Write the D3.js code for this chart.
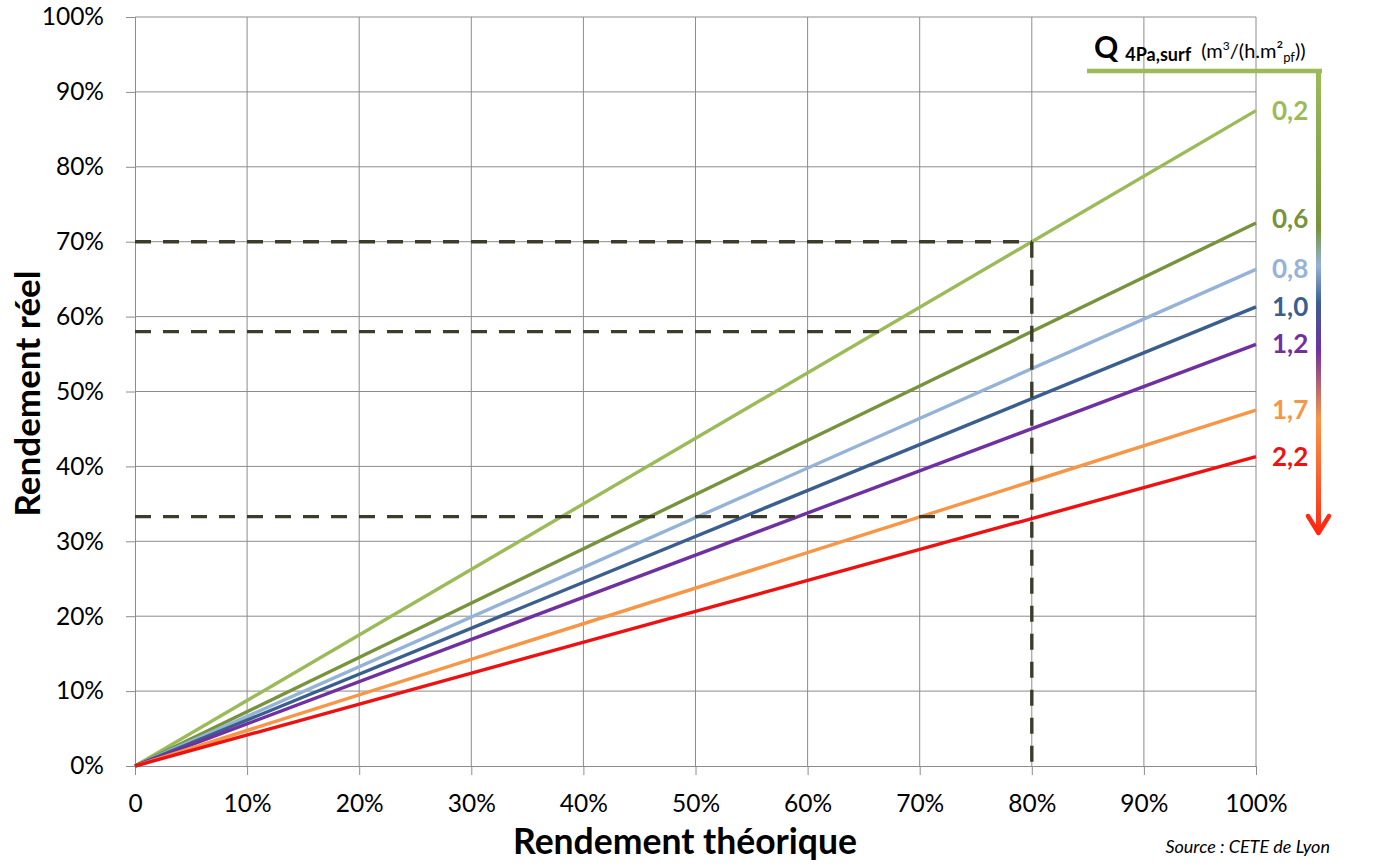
<!DOCTYPE html>
<html><head><meta charset="utf-8">
<script src="https://cdn.jsdelivr.net/npm/d3@7"></script>
<style>body{margin:0;background:#fff;} svg{display:block;font-family:Lato,"Open Sans",sans-serif;}</style>
</head><body>
<svg id="c" width="1398" height="866"></svg>
<script>
const seriesNames = ["0,2","0,6","0,8","1,0","1,2","1,7","2,2"];
const seriesEnd = [0.875,0.725,0.663,0.613,0.563,0.475,0.413];
const seriesColors = ["#9bbb59","#77933c","#95b3d7","#3a5f8f","#7030a0","#f79646","#ee1111"];
const labelY = [0.875,0.73,0.663,0.613,0.563,0.475,0.413];
const xTicks = [0,0.1,0.2,0.3,0.4,0.5,0.6,0.7,0.8,0.9,1.0];
const xTickLabels = ["0","10%","20%","30%","40%","50%","60%","70%","80%","90%","100%"];
const yTicks = [0,0.1,0.2,0.3,0.4,0.5,0.6,0.7,0.8,0.9,1.0];
const refX = 0.8;
const refY = [0.70,0.58,0.333];

const svg = d3.select("#c");
const x = d3.scaleLinear().domain([0,1]).range([135,1256]);
const y = d3.scaleLinear().domain([0,1]).range([766,17]);

// grid
svg.append("g").selectAll("line.v").data(xTicks.slice(1)).join("line")
  .attr("x1",d=>x(d)).attr("x2",d=>x(d)).attr("y1",y(0)).attr("y2",y(1))
  .attr("stroke","#8c8c8c").attr("stroke-width",1);
svg.append("g").selectAll("line.h").data(yTicks.slice(1)).join("line")
  .attr("x1",x(0)).attr("x2",x(1)).attr("y1",d=>y(d)).attr("y2",d=>y(d))
  .attr("stroke","#8c8c8c").attr("stroke-width",1);

// axes
const xAxis = svg.append("g").attr("transform",`translate(0,${y(0)})`)
  .call(d3.axisBottom(x).tickValues(xTicks).tickFormat((d,i)=>xTickLabels[i]).tickSizeOuter(0).tickSize(9).tickPadding(20));
const yAxis = svg.append("g").attr("transform",`translate(${x(0)},0)`)
  .call(d3.axisLeft(y).tickValues(yTicks).tickFormat(d3.format(".0%")).tickSizeOuter(0).tickSize(9).tickPadding(22));
[xAxis,yAxis].forEach(a=>{
  a.selectAll("line,path").attr("stroke","#8c8c8c").attr("stroke-width",1);
  a.selectAll("text").attr("font-size",24.5).attr("fill","#000").attr("font-family","Lato,'Open Sans',sans-serif");
});

// series lines
const line = d3.line().x(d=>x(d[0])).y(d=>y(d[1]));
svg.append("g").selectAll("path").data(seriesEnd).join("path")
  .attr("d",d=>line([[0,0],[1,d]]))
  .attr("stroke",(d,i)=>seriesColors[i]).attr("stroke-width",3.4).attr("fill","none");

// dashed reference lines
const dash = svg.append("g").attr("stroke","#3d3c2c").attr("stroke-width",3.4).attr("stroke-dasharray","16,12").attr("fill","none");
dash.selectAll("line.h").data(refY).join("line")
  .attr("x1",x(0)).attr("x2",x(refX)).attr("y1",d=>y(d)).attr("y2",d=>y(d));
dash.append("line").attr("x1",x(refX)).attr("x2",x(refX)).attr("y1",y(refY[0])).attr("y2",y(0));

// series labels
svg.append("g").selectAll("text").data(seriesNames).join("text")
  .attr("x",1272).attr("y",(d,i)=>y(labelY[i])+9)
  .attr("font-size",26).attr("font-weight","bold").attr("fill",(d,i)=>seriesColors[i])
  .text(d=>d);

// legend bracket with gradient
const defs = svg.append("defs");
const grad = defs.append("linearGradient").attr("id","g1").attr("gradientUnits","userSpaceOnUse")
  .attr("x1",0).attr("x2",0).attr("y1",71).attr("y2",535);
const stops = [[0,"#9bbb59"],[0.34,"#77933c"],[0.42,"#95b3d7"],[0.50,"#3a5f8f"],[0.60,"#7030a0"],[0.75,"#f79646"],[1,"#ff2a14"]];
grad.selectAll("stop").data(stops).join("stop").attr("offset",d=>d[0]).attr("stop-color",d=>d[1]);
svg.append("line").attr("x1",1087).attr("x2",1322).attr("y1",71).attr("y2",71).attr("stroke","#9bbb59").attr("stroke-width",4.5);
svg.append("rect").attr("x",1316).attr("y",69).attr("width",5).attr("height",462).attr("fill","url(#g1)");
svg.append("path").attr("d","M1308,516 L1318.5,533 L1329,516").attr("stroke","#ff2a14").attr("stroke-width",4.5).attr("fill","none").attr("stroke-linecap","round").attr("stroke-linejoin","round");

// legend title
const t = svg.append("text").attr("x",1094).attr("y",58).attr("fill","#000");
t.append("tspan").attr("font-size",30).attr("font-weight","bold").text("Q");
t.append("tspan").attr("font-size",18).attr("font-weight","bold").attr("dx",7).attr("dy",3).text("4Pa,surf");
t.append("tspan").attr("font-size",20).attr("dx",10).attr("dy",-3).text("(m");
t.append("tspan").attr("font-size",12).attr("dy",-8).text("3");
t.append("tspan").attr("font-size",20).attr("dy",8).text("/(h.m²");
t.append("tspan").attr("font-size",13).attr("dy",4).text("pf");
t.append("tspan").attr("font-size",20).attr("dy",-4).text("))");

// axis titles
svg.append("text").attr("x",685).attr("y",854).attr("text-anchor","middle")
  .attr("font-size",35.5).attr("font-weight","bold").text("Rendement théorique");
svg.append("text").attr("transform",`translate(40,${(y(0)+y(1))/2+2}) rotate(-90)`).attr("text-anchor","middle")
  .attr("font-size",35).attr("font-weight","bold").text("Rendement réel");

// source
svg.append("text").attr("x",1330).attr("y",853).attr("text-anchor","end")
  .attr("font-size",18).attr("font-style","italic").text("Source : CETE de Lyon");
</script>
</body></html>
